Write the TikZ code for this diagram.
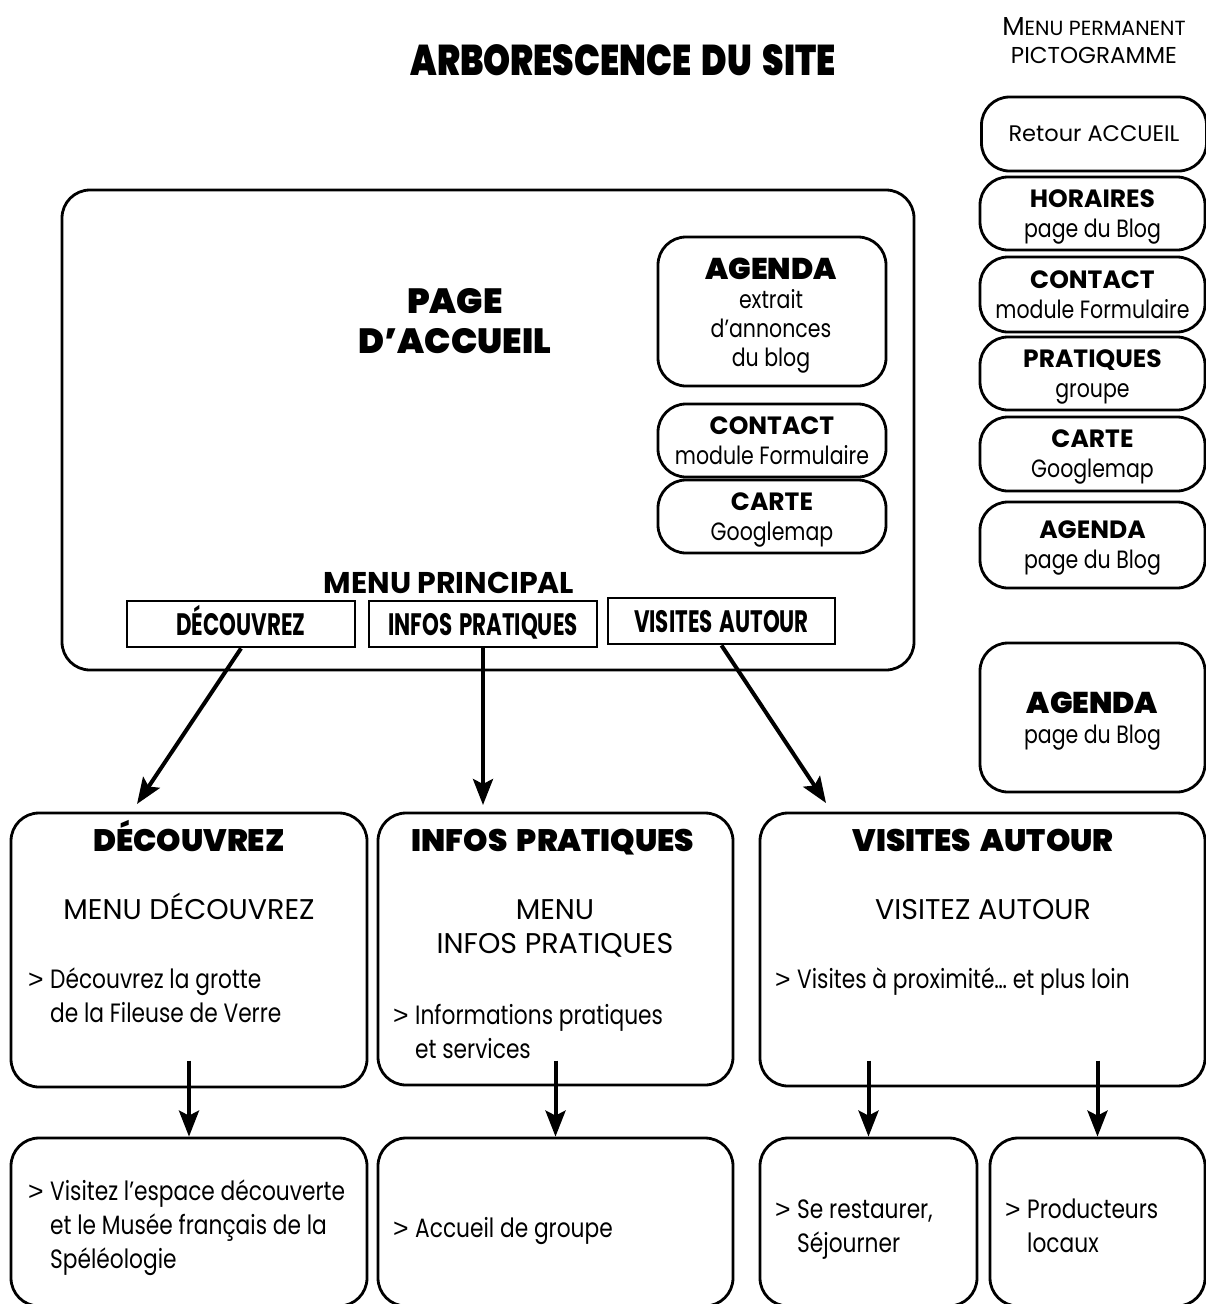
\documentclass[tikz,border=0pt]{standalone}
\usepackage{fontspec}
\setmainfont{Poppins}[FakeStretch=0.82]
\newfontfamily\capsfont{Poppins}
\newfontfamily\heavyfont{Poppins Black}[WordSpace=1.8]
\newfontfamily\titlefont{Poppins Black}[FakeStretch=0.8, WordSpace=1.8]
\newfontfamily\condfont{Poppins}[FakeStretch=0.69, WordSpace=1.5]
\newfontfamily\pucefont{Liberation Sans}
\usetikzlibrary{arrows.meta,calc}

\newcommand{\puce}{\makebox[22pt][l]{\pucefont >}}
\newcommand{\retrait}{\hspace*{22pt}}
\newcommand{\titrebox}[1]{{\capsfont\bfseries\fontsize{25}{30}\selectfont #1}}

\begin{document}
\begin{tikzpicture}[x=1pt, y=-1pt,
    cadre/.style={draw, line width=2.8pt, rounded corners=28pt, inner sep=0pt},
    onglet/.style={draw, line width=2.8pt, inner sep=0pt, minimum width=228pt, minimum height=46pt, text height=23pt, text depth=0pt, font=\condfont\bfseries\fontsize{31}{34}\selectfont},
    picto/.style={cadre, minimum width=225pt, align=center, text depth=0pt, font=\fontsize{25}{30}\selectfont},
    fleche/.style={line width=4pt, -{Stealth[length=26pt, width=20pt, inset=5pt]}},
    lourd/.style={font=\heavyfont\fontsize{31}{34}\selectfont, anchor=base, inner sep=0pt},
    majuscules/.style={font=\capsfont\fontsize{28.5}{34}\selectfont, align=center, anchor=base, inner sep=0pt},
    texte/.style={font=\fontsize{26.5}{34}\selectfont, align=left, anchor=base west, inner sep=0pt}]

    \useasboundingbox (0, 0) rectangle (1206, 1304);

    % titre et menu permanent
    \node [anchor=base, inner sep=0pt, font=\titlefont\fontsize{43}{48}\selectfont] (titre) at (623, 75) {ARBORESCENCE DU SITE};
    \node [anchor=base, inner sep=0pt, font=\capsfont\fontsize{26}{28}\selectfont] (permanent) at (1094, 35) {M{\fontsize{20.5}{28}\selectfont ENU PERMANENT}};
    \node [anchor=base, inner sep=0pt, font=\capsfont\fontsize{23}{28}\selectfont] (pictogramme) at (1094, 63) {PICTOGRAMME};

    % page d'accueil
    \node [cadre, minimum width=852pt, minimum height=480pt] (accueil) at (488, 430) {};
    \node [lourd, align=center, font=\heavyfont\fontsize{35}{40}\selectfont] (nomAccueil) at (455, 353) {PAGE\\D’ACCUEIL};
    \node [cadre, minimum width=228pt, minimum height=149pt] (agenda) at (772, 311.5) {};
    \node [texte, anchor=base, align=center, font=\fontsize{25}{29}\selectfont] (agendaTxt) at (771, 366)
        {{\heavyfont\fontsize{30}{29}\selectfont AGENDA}\\extrait\\d’annonces\\du blog};
    \node [picto, minimum width=228pt, minimum height=73pt] (contact) at (772, 440.5) {\titrebox{CONTACT}\\module Formulaire};
    \node [picto, minimum width=228pt, minimum height=73pt] (carte) at (772, 516.5) {\titrebox{CARTE}\\Googlemap};

    % menu principal
    \node [anchor=base, inner sep=0pt, font=\capsfont\bfseries\fontsize{30}{34}\selectfont] (menuPrincipal) at (449, 593) {MENU PRINCIPAL};
    \node [onglet] (mDec) at (241, 624) {DÉCOUVREZ};
    \node [onglet] (mInf) at (483, 624) {INFOS PRATIQUES};
    \node [onglet, minimum width=227pt] (mVis) at (721.5, 621) {VISITES AUTOUR};

    % menu permanent pictogramme
    \node [picto, minimum height=74pt, font=\capsfont\fontsize{22.5}{30}\selectfont] (pAcc) at (1094, 134) {Retour ACCUEIL};
    \node [picto, minimum height=73pt] (pHor) at (1092.5, 213.5) {\titrebox{HORAIRES}\\page du Blog};
    \node [picto, minimum height=75pt] (pCon) at (1092.5, 294.5) {\titrebox{CONTACT}\\module Formulaire};
    \node [picto, minimum height=73pt] (pPra) at (1092.5, 373.5) {\titrebox{PRATIQUES}\\groupe};
    \node [picto, minimum height=74pt] (pCar) at (1092.5, 454) {\titrebox{CARTE}\\Googlemap};
    \node [picto, minimum height=86pt] (pAge) at (1092.5, 545) {\titrebox{AGENDA}\\page du Blog};
    \node [picto, minimum height=149pt] (pBlog) at (1092.5, 717.5) {{\heavyfont\fontsize{30}{32}\selectfont AGENDA}\\page du Blog};

    % rubriques
    \node [cadre, minimum width=356pt, minimum height=274pt] (dec) at (189, 950) {};
    \node [cadre, minimum width=355pt, minimum height=272pt] (inf) at (555.5, 949) {};
    \node [cadre, minimum width=445pt, minimum height=273pt] (vis) at (982.5, 949.5) {};
    \node [lourd] (nomDec) at (189, 851) {DÉCOUVREZ};
    \node [lourd] (nomInf) at (553, 851) {INFOS PRATIQUES};
    \node [lourd] (nomVis) at (983, 851) {VISITES AUTOUR};
    \node [majuscules] (menuDec) at (189, 919) {MENU DÉCOUVREZ};
    \node [majuscules] (menuInf) at (555, 953) {MENU\\INFOS PRATIQUES};
    \node [majuscules] (menuVis) at (983, 919) {VISITEZ AUTOUR};
    \node [texte] (lienDec) at (28, 1022) {\puce Découvrez la grotte\\\retrait de la Fileuse de Verre};
    \node [texte] (lienInf) at (393, 1058) {\puce Informations pratiques\\\retrait et services};
    \node [texte] (lienVis) at (775, 988) {\puce Visites à proximité… et plus loin};

    % sous-pages
    \node [cadre, minimum width=356pt, minimum height=168pt] (sDec) at (189, 1222) {};
    \node [cadre, minimum width=355pt, minimum height=168pt] (sInf) at (555.5, 1222) {};
    \node [cadre, minimum width=217pt, minimum height=168pt] (sRes) at (868.5, 1222) {};
    \node [cadre, minimum width=215pt, minimum height=168pt] (sProd) at (1097.5, 1222) {};
    \node [texte] (lienMusee) at (28, 1268) {\puce Visitez l’espace découverte\\\retrait et le Musée français de la\\\retrait Spéléologie};
    \node [texte] (lienGroupe) at (393, 1237) {\puce Accueil de groupe};
    \node [texte] (lienRes) at (775, 1252) {\puce Se restaurer,\\\retrait Séjourner};
    \node [texte] (lienProd) at (1005, 1252) {\puce Producteurs\\\retrait locaux};

    % fleches
    \coordinate (pointeDec) at (137, 804);
    \coordinate (pointeInf) at (483, 805);
    \coordinate (pointeVis) at (826, 803);
    \draw [fleche] (mDec.south) -- (pointeDec);
    \draw [fleche] (mInf.south) -- (pointeInf);
    \draw [fleche] (mVis.south) -- (pointeVis);
    \draw [fleche] ($(sDec.north)+(0, -76)$) -- (sDec.north);
    \draw [fleche] ($(sInf.north)+(0, -76)$) -- (sInf.north);
    \draw [fleche] ($(sRes.north)+(0, -76)$) -- (sRes.north);
    \draw [fleche] ($(sProd.north)+(0, -76)$) -- (sProd.north);
\end{tikzpicture}
\end{document}
